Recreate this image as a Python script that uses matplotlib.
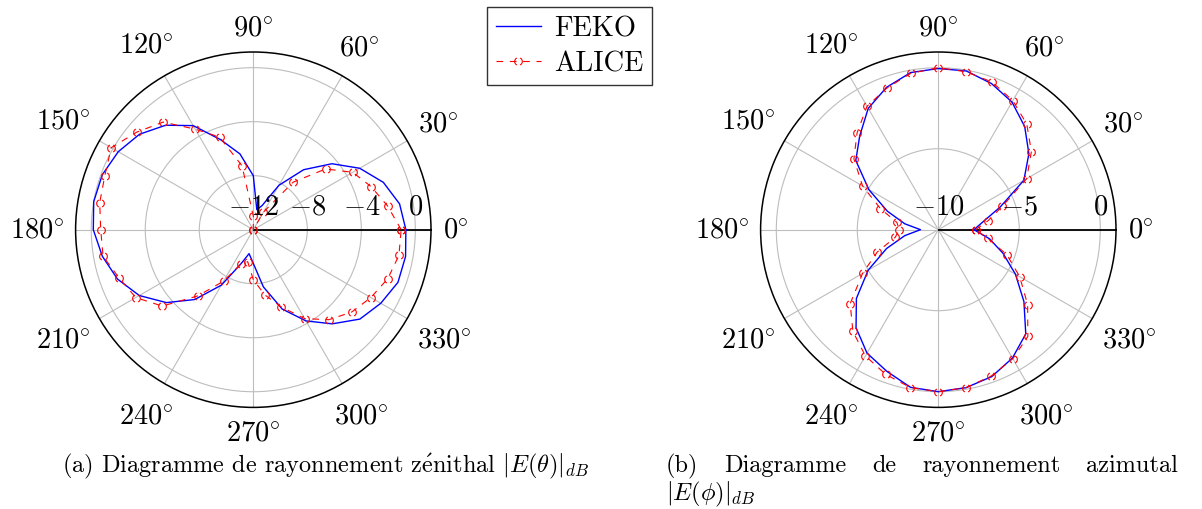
import numpy as np
import matplotlib
matplotlib.use("Agg")
import matplotlib.pyplot as plt
from matplotlib.path import Path
from matplotlib.lines import Line2D
from matplotlib.transforms import ScaledTranslation

plt.rcParams['font.family'] = ['cmr10', 'DejaVu Serif']
plt.rcParams['mathtext.fontset'] = 'cm'
plt.rcParams['axes.formatter.use_mathtext'] = True

# ---------------- data ----------------
series_names = ["FEKO", "ALICE"]

# (a) zenithal pattern |E(theta)| in dB
theta_feko_deg = [0, 10, 20, 30, 40, 50, 60, 70, 80, 90, 100, 110, 120, 130, 140, 150,
                  160, 170, 180, 190, 200, 210, 220, 230, 240, 250, 260,
                  280, 290, 300, 310, 320, 330, 340, 350]
e_theta_feko = [-0.7, -1.0, -1.75, -2.9, -4.4, -6.2, -8.2, -10.1, -10.5, -8.0, -6.3, -4.9,
                -3.1, -1.9, -1.0, -0.45, -0.1, 0.0, -0.15, -0.65, -1.3, -2.25, -3.6, -5.25,
                -7.25, -9.3, -10.2,
                -7.7, -5.75, -4.2, -2.9, -1.7, -1.1, -0.6, -0.55]

theta_alice_deg = [0, 10, 20, 30, 40, 50, 60, 70, 80, 90, 100, 110, 120, 130, 140, 150,
                   160, 170, 180, 190, 200, 210, 220, 230, 240, 250, 260, 270,
                   280, 290, 300, 310, 320, 330, 340, 350]
e_theta_alice = [-1.05, -1.9, -2.7, -3.5, -5.0, -7.4, -10.5, -12.0, -12.0, -11.0, -7.2, -4.7,
                 -3.4, -1.6, -0.75, 0.15, -0.3, -0.45, -0.7, -0.7, -1.45, -1.95, -3.2, -5.6,
                 -7.6, -9.3, -9.6, -8.3,
                 -7.1, -5.9, -4.4, -3.3, -2.5, -1.95, -1.4, -1.05]

# (b) azimuthal pattern |E(phi)| in dB
phi_deg = [0, 10, 20, 30, 40, 50, 60, 70, 80, 90, 100, 110, 120, 130, 140, 150, 160, 170,
           180, 190, 200, 210, 220, 230, 240, 250, 260, 270, 280, 290, 300, 310, 320, 330, 340, 350]
e_phi_feko = [-7.8, -7.2, -5.95, -3.9, -2.7, -1.7, -0.9, -0.4, -0.05, -0.05, -0.15, -0.65,
              -1.35, -2.45, -3.35, -5.05, -6.65, -7.9,
              -8.9, -7.9, -6.6, -5.0, -3.4, -2.1, -1.2, -0.7, -0.12, 0.0, -0.1, -0.35,
              -0.85, -1.6, -3.1, -4.5, -5.75, -6.8]
e_phi_alice = [-7.7, -6.9, -5.8, -3.7, -2.5, -1.5, -0.8, -0.3, -0.1, 0.0, -0.2, -0.7,
               -1.2, -2.2, -3.2, -4.6, -6.2, -7.4,
               -7.6, -7.3, -6.0, -4.6, -2.9, -1.8, -1.0, -0.5, -0.1, 0.0, -0.1, -0.4,
               -0.8, -1.4, -2.8, -4.2, -5.5, -6.9]

angle_ticks = [0, 30, 60, 90, 120, 150, 180, 210, 240, 270, 300, 330]
r_ticks_a = [-12, -8, -4, 0]
r_lim_a = (-12, 1.16)
r_ticks_b = [-10, -5, 0]
r_lim_b = (-10, 0.97)

caption_a = r"(a) Diagramme de rayonnement z$\mathrm{\acute{e}}$nithal $|E(\theta)|_{dB}$"
caption_b_words = ["(b)", "Diagramme", "de", "rayonnement", "azimutal"]
caption_b_line2 = r"$|E(\phi)|_{dB}$"

# ---------------- styling ----------------
W, H, DPI = 1202, 510, 100
fig = plt.figure(figsize=(W / DPI, H / DPI), dpi=DPI)

R_PX = 177.7
centers = [(253.3, 230.7), (938.3, 230.7)]
TICK_FS = 20.5
GRID_COLOR = '#bdbdbd'
BLUE = '#0000ff'
RED = '#ff0000'

# "( )" look of a circle marker drawn with a dashed pen
arc_l = Path.arc(115, 245)
arc_r = Path.arc(-65, 65)
dashed_circle = Path.make_compound_path(arc_l, arc_r)

def make_ax(center):
    cx, cy = center
    x0 = (cx - R_PX) / W
    y0 = (H - cy - R_PX) / H
    return fig.add_axes([x0, y0, 2 * R_PX / W, 2 * R_PX / H], projection='polar')

def style_ax(ax, rlim, rticks):
    ax.set_ylim(*rlim)
    ax.set_thetagrids(angle_ticks, labels=[''] * len(angle_ticks))
    ax.set_rgrids(rticks, labels=[''] * len(rticks))
    ax.grid(True, color=GRID_COLOR, lw=0.8)
    ax.tick_params(axis='y', length=0)
    ax.tick_params(axis='x', length=11, direction='out', color=GRID_COLOR, width=0.8)
    ax.spines['polar'].set_color('black')
    ax.spines['polar'].set_linewidth(1.1)
    ax.spines['polar'].set_zorder(3)
    ax.vlines(0, rlim[0], rlim[1], color='black', lw=1.3, zorder=3)

def plot_series(ax, th_f, r_f, th_a, r_a):
    tf = np.deg2rad(np.append(th_f, th_f[0] + 360))
    rf = np.append(r_f, r_f[0])
    ta = np.deg2rad(np.append(th_a, th_a[0] + 360))
    ra = np.append(r_a, r_a[0])
    ax.plot(tf, rf, color=BLUE, lw=1.0, zorder=4)
    ax.plot(ta, ra, color=RED, lw=0.8, dashes=(6, 6), marker=dashed_circle,
            markersize=5.5, markerfacecolor='none', markeredgecolor=RED,
            markeredgewidth=0.8, zorder=5)

ax_a = make_ax(centers[0])
style_ax(ax_a, r_lim_a, r_ticks_a)
plot_series(ax_a, theta_feko_deg, e_theta_feko, theta_alice_deg, e_theta_alice)

ax_b = make_ax(centers[1])
style_ax(ax_b, r_lim_b, r_ticks_b)
plot_series(ax_b, phi_deg, e_phi_feko, phi_deg, e_phi_alice)

# radial tick labels (above the 0-degree axis line)
for ax, rticks in [(ax_a, r_ticks_a), (ax_b, r_ticks_b)]:
    for r in rticks:
        ax.annotate(r"$%d$" % r if r >= 0 else r"$-%d$" % (-r), xy=(0, r),
                    xytext=(0, 7.2), textcoords='offset points',
                    ha='center', va='bottom', fontsize=TICK_FS, zorder=6,
                    annotation_clip=False)

# angular tick labels
ang_texts = []
for ax, rlim in [(ax_a, r_lim_a), (ax_b, r_lim_b)]:
    for a in angle_ticks:
        t = ax.text(np.deg2rad(a), rlim[1], r"$%d\!^\circ$" % a, fontsize=TICK_FS,
                    ha='center', va='center', clip_on=False)
        ang_texts.append((ax, a, t))

# captions
cap_fs = 14.5
cap_a = fig.text(62 / W, 1 - 472 / H, caption_a, fontsize=cap_fs, ha='left', va='baseline')
words_b = [fig.text(666 / W, 1 - 472 / H, w, fontsize=cap_fs, ha='left', va='baseline')
           for w in caption_b_words]
line2_b = fig.text(666 / W, 1 - 500 / H, caption_b_line2, fontsize=cap_fs,
                   ha='left', va='baseline')

# legend
handles = [Line2D([], [], color=BLUE, lw=1.0),
           Line2D([], [], color=RED, lw=0.8, dashes=(6, 6), marker=dashed_circle,
                  markersize=5.5, markerfacecolor='none', markeredgecolor=RED,
                  markeredgewidth=0.8)]
leg = fig.legend(handles, series_names, loc='upper left',
                 bbox_to_anchor=(487 / W, 1 - 8 / H), frameon=True, fancybox=False,
                 edgecolor='#333333', framealpha=1, fontsize=TICK_FS,
                 handlelength=1.6, handletextpad=0.45, borderpad=0.3,
                 labelspacing=0.3, borderaxespad=0, numpoints=1)
leg.get_frame().set_linewidth(1.0)

# ---------- layout pass: measure text and place ----------
fig.canvas.draw()
rend = fig.canvas.get_renderer()

GAP = 12.0
for ax, a, t in ang_texts:
    bb = t.get_window_extent(rend)
    w, h = bb.width, bb.height
    c, s = np.cos(np.deg2rad(a)), np.sin(np.deg2rad(a))
    d = GAP + abs(c) * w / 2 + abs(s) * h / 2
    t.set_transform(ax.transData + ScaledTranslation(d * c / DPI, d * s / DPI,
                                                     fig.dpi_scale_trans))

# fit caption (a) width to target
bb = cap_a.get_window_extent(rend)
scale = (590 - 62) / bb.width
cap_fs2 = cap_fs * scale
cap_a.set_fontsize(cap_fs2)
for t in words_b:
    t.set_fontsize(cap_fs2)
line2_b.set_fontsize(cap_fs2)
fig.canvas.draw()
widths = [t.get_window_extent(rend).width for t in words_b]
x_left, x_right = 666.0, 1178.0
gap = (x_right - x_left - sum(widths)) / (len(words_b) - 1)
x = x_left
for t, wdt in zip(words_b, widths):
    t.set_x(x / W)
    x += wdt + gap

fig.savefig("out.png", dpi=DPI)
